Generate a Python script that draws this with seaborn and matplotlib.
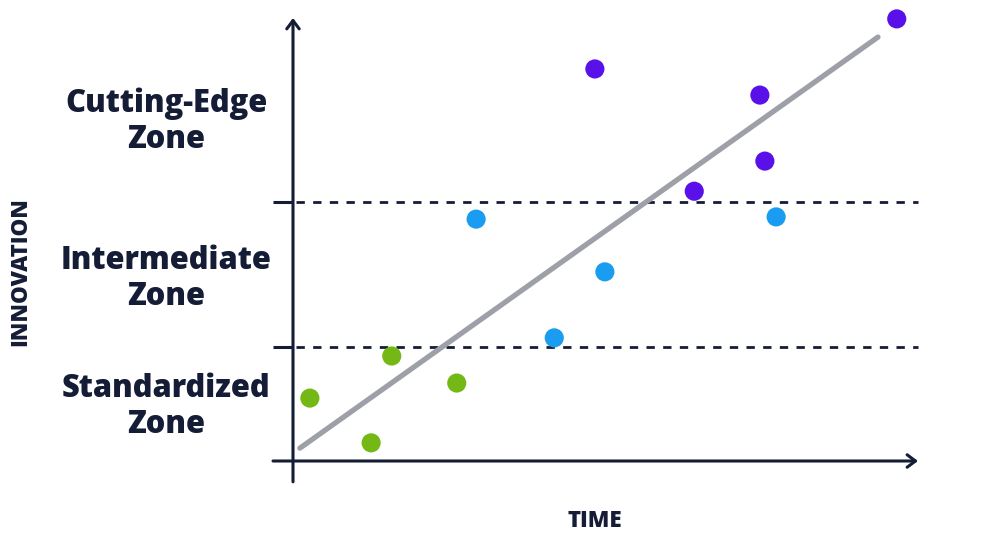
import pandas as pd
import matplotlib.pyplot as plt
import seaborn as sns

# points (time 0-100, innovation 0-100)
time_vals = [2.7, 12.5, 15.8, 26.2, 29.3, 41.8, 49.9, 77.3, 48.3, 64.2, 74.7, 75.5, 96.6]
innovation_vals = [14.2, 4.1, 23.7, 17.6, 54.6, 27.8, 42.7, 55.1, 88.5, 60.9, 82.6, 67.7, 99.8]
zone = ['Standardized'] * 4 + ['Intermediate'] * 4 + ['Cutting-Edge'] * 5

trend_x = [1.1, 93.6]
trend_y = [2.9, 95.7]

zone_bounds = [25.7, 58.5]
zone_labels = ['Standardized\nZone', 'Intermediate\nZone', 'Cutting-Edge\nZone']
zone_label_y = [12.2, 41.1, 76.6]

palette = {'Standardized': '#74b816', 'Intermediate': '#1a9cf0', 'Cutting-Edge': '#5a10e8'}
navy = '#141c36'

df = pd.DataFrame({'time': time_vals, 'innovation': innovation_vals, 'zone': zone})

sns.set_style('white')
plt.rcParams['font.family'] = ['Open Sans', 'DejaVu Sans']

fig = plt.figure(figsize=(9.99, 5.34), dpi=100)
ax = fig.add_axes([293 / 999, 73 / 534, 625 / 999, 443 / 534])
ax.set_xlim(0, 100)
ax.set_ylim(0, 100)
ax.axis('off')

# zone boundaries: short solid tick left of the axis, dashed to the right
for b in zone_bounds:
    ax.plot([-3.2, 0], [b, b], color=navy, lw=2.2, clip_on=False, solid_capstyle='butt')
    ax.plot([0.5, 100], [b, b], color=navy, lw=2.0, dashes=(3, 3), clip_on=False)

# trend line
sns.lineplot(x=trend_x, y=trend_y, ax=ax, color='#9ea0a8', lw=3.8,
             solid_capstyle='round', zorder=2)

# axes with open arrow heads
ax.annotate('', xy=(100, 0), xytext=(-3.2, 0), xycoords='data',
            arrowprops=dict(arrowstyle='->,head_length=0.6,head_width=0.45',
                            color=navy, lw=2.2, shrinkA=0, shrinkB=0),
            annotation_clip=False)
ax.annotate('', xy=(0, 100), xytext=(0, -4.7), xycoords='data',
            arrowprops=dict(arrowstyle='->,head_length=0.6,head_width=0.45',
                            color=navy, lw=2.2, shrinkA=0, shrinkB=0),
            annotation_clip=False)

sns.scatterplot(data=df, x='time', y='innovation', hue='zone', palette=palette,
                s=190, edgecolor='none', legend=False, ax=ax, zorder=3, clip_on=False)

for lab, yy in zip(zone_labels, zone_label_y):
    ax.text(-20.3, yy, lab, ha='center', va='center', fontsize=22.2, fontweight='heavy',
            color=navy, linespacing=1.17)

fig.text(20 / 999, 1 - 272 / 534, 'INNOVATION', rotation=90, ha='center', va='center',
         fontsize=16, fontweight='heavy', color=navy)
fig.text(595 / 999, 1 - 521 / 534, 'TIME', ha='center', va='center',
         fontsize=16, fontweight='heavy', color=navy)

fig.savefig('out.png', dpi=100)
